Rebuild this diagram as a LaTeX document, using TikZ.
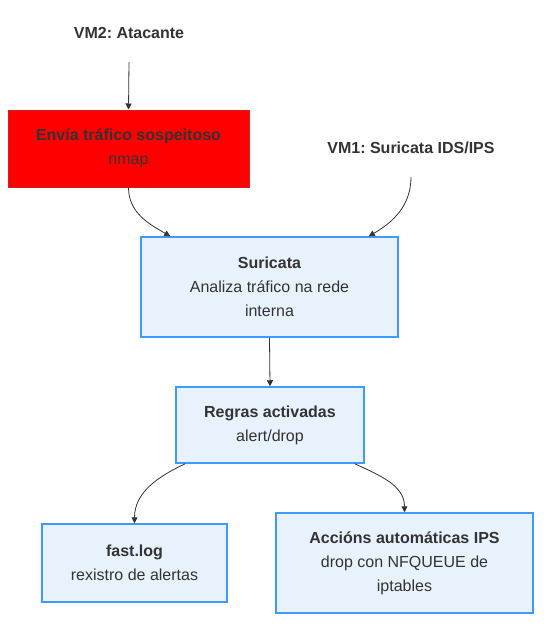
\documentclass[tikz,border=0pt]{standalone}
\usepackage{fontspec}
\setmainfont{Liberation Sans}
\frenchspacing
\usetikzlibrary{arrows.meta,positioning}
\definecolor{txtgray}{HTML}{333333}
\definecolor{boxfill}{HTML}{E8F2FD}
\definecolor{boxline}{HTML}{3D9BFF}
\definecolor{alertline}{HTML}{D62020}
\definecolor{linegray}{HTML}{333333}
\begin{document}
\begin{tikzpicture}[
        x=1pt,y=-1pt,
        every node/.style={font=\fontsize{16}{24}\selectfont,text=txtgray,align=center},
        stepbox/.style={draw=boxline,fill=boxfill,line width=1.5pt,inner sep=0pt},
        alertbox/.style={draw=alertline,fill=red,line width=1pt,inner sep=0pt},
        link/.style={draw=linegray,line width=0.8pt,-{Triangle[length=6pt,width=6pt]}}
    ]
    \useasboundingbox (0,0) rectangle (549,630);
    % titles
    \node (vm2) at (129,33) {\textbf{VM2: Atacante}};
    \node (vm1) at (411,148) {\textbf{VM1: Suricata IDS/IPS}};
    \coordinate (vm2s) at (129,62);
    \coordinate (vm1s) at (411,177);
    % boxes
    \node (envia) [alertbox,minimum width=241pt,minimum height=77pt] at (128.5,148.5)
        {\textbf{Envía tráfico sospeitoso}\\nmap};
    \node (suri) [stepbox,minimum width=257pt,minimum height=100pt] at (269.5,287)
        {\textbf{Suricata}\\Analiza tráfico na rede\\interna};
    \node (regras) [stepbox,minimum width=188pt,minimum height=76pt] at (270,425)
        {\textbf{Regras activadas}\\alert/drop};
    \node (fast) [stepbox,minimum width=185pt,minimum height=78pt] at (134.5,563)
        {\textbf{fast.log}\\rexistro de alertas};
    \node (accions) [stepbox,minimum width=257pt,minimum height=100pt] at (404.5,563)
        {\textbf{Accións automáticas IPS}\\drop con NFQUEUE de\\iptables};
    % links
    \draw [link] (vm2s) -- (envia.north);
    \draw [link] (envia.south) to[out=-90,in=150] ([xshift=30pt]suri.north west);
    \draw [link] (vm1s) to[out=-90,in=30] ([xshift=-30pt]suri.north east);
    \draw [link] (suri.south) -- (regras.north);
    \draw [link] ([xshift=10pt]regras.south west) to[out=-155,in=90] (fast.north);
    \draw [link] ([xshift=-10pt]regras.south east) to[out=-25,in=90] (accions.north);
\end{tikzpicture}
\end{document}
